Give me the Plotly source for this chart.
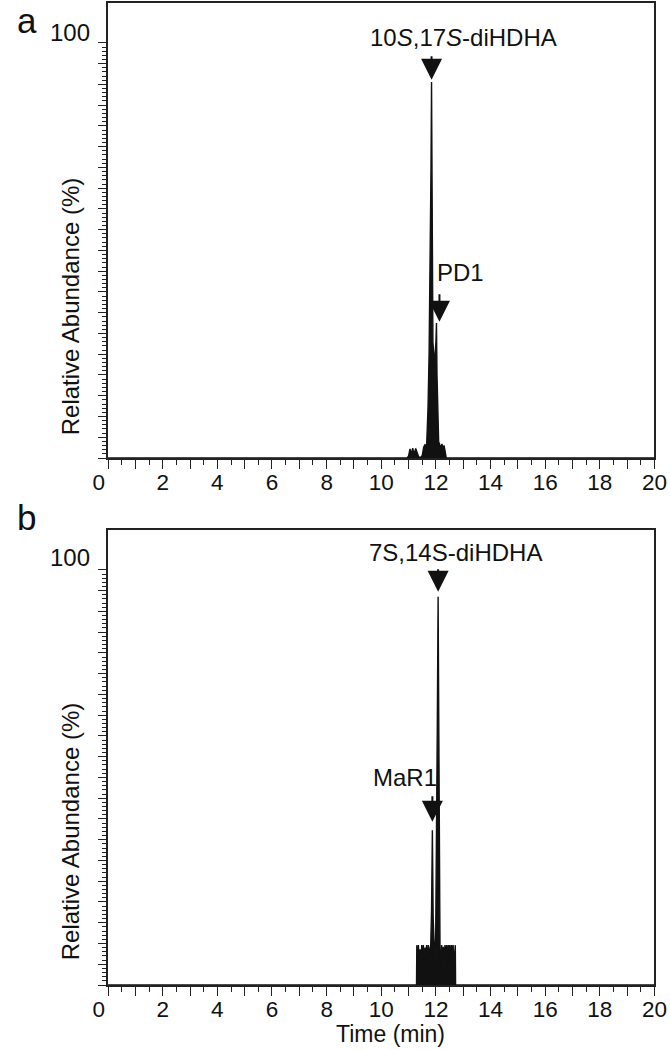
import plotly.graph_objects as go

# Chromatogram traces (time in min, relative abundance in %)
a_time = [0, 10.95, 11.0, 11.05, 11.1, 11.15, 11.2, 11.26, 11.31, 11.36, 11.42, 11.5,
          11.55, 11.6, 11.66, 11.71, 11.75, 11.79, 11.82, 11.84, 11.86, 11.89, 11.93,
          11.97, 12.0, 12.02, 12.04, 12.07, 12.1, 12.14, 12.18, 12.22, 12.26, 12.3,
          12.34, 12.38, 20]
a_abund = [0, 0, 0.5, 2.2, 1.0, 2.4, 0.9, 2.3, 1.4, 0.4, 0, 0.6,
           2.6, 3.2, 3.0, 12, 25, 45, 70, 90.6, 45, 28, 24,
           25, 28, 32.5, 20, 12, 4, 3.2, 2.6, 3.4, 2.4, 3.0,
           1.2, 0, 0]

b_time = [0, 11.29, 11.3, 11.33, 11.36, 11.39, 11.42, 11.45, 11.48, 11.51, 11.54,
          11.57, 11.6, 11.63, 11.66, 11.69, 11.72, 11.75, 11.78, 11.81, 11.84, 11.87,
          11.9, 11.93, 11.96, 11.99, 12.02, 12.05, 12.08, 12.1, 12.12, 12.15, 12.18,
          12.21, 12.24, 12.27, 12.3, 12.33, 12.36, 12.39, 12.42, 12.45, 12.48, 12.51,
          12.54, 12.57, 12.6, 12.63, 12.66, 12.69, 12.71, 12.72, 20]
b_abund = [0, 0, 9.6, 5.5, 9.6, 4.8, 8.6, 4.5, 9.6, 6.2, 9.6,
           5.2, 9.0, 6.8, 9.6, 4.8, 9.6, 6.0, 8.8, 9.6, 18, 37.3,
           16, 8.5, 6.0, 11, 30, 62, 93.5, 55, 22, 8.5, 5.0,
           9.6, 6.4, 9.2, 5.0, 9.6, 7.0, 9.6, 5.4, 9.6, 8.0, 9.6,
           6.0, 9.6, 7.4, 9.6, 5.0, 9.6, 9.6, 0, 0]

x_ticks = list(range(0, 21))
x_ticktext = [str(t) if t % 2 == 0 else "" for t in x_ticks]
x_ticktext[0] = "0\u00a0\u00a0\u00a0"   # the zero label sits left of its tick
y_major = list(range(0, 101, 5))
y_minor = list(range(0, 101))

FONT = "Liberation Sans, Arial, sans-serif"
INK = "#111111"
YMAX = 109.6
W, H = 690, 1050


def px(p):
    # target horizontal pixel in the photographed page -> paper fraction
    # (the page photo comes out offset ~13.5 px and squeezed to ~96%)
    return (p - 13.5) / 0.9625 / W


def py(p):
    return 1 - p / H


fig = go.Figure()
for t, v, ax in [(a_time, a_abund, "1"), (b_time, b_abund, "2")]:
    fig.add_trace(go.Scatter(
        x=t, y=v, mode="lines", fill="tozeroy", fillcolor=INK,
        line=dict(color=INK, width=1.4), xaxis="x" + ax, yaxis="y" + ax,
        showlegend=False, hoverinfo="skip"))

xax = dict(range=[0, 20], domain=[px(106), px(655)], showline=True, linecolor="#222",
           linewidth=1.5, mirror=True, showgrid=False, zeroline=False, ticks="outside",
           ticklen=9, tickwidth=1.3, tickcolor="#222", tickmode="array", tickvals=x_ticks,
           ticktext=x_ticktext, ticklabelstandoff=-6,
           tickfont=dict(size=22.5, color=INK, family=FONT),
           minor=dict(tickmode="array", tickvals=[t + 0.5 for t in x_ticks[:-1]],
                      ticklen=5, tickwidth=1.2, tickcolor="#222", ticks="outside"))
yax = dict(range=[0, YMAX], showline=True, linecolor="#222", linewidth=1.5, mirror=True,
           showgrid=False, zeroline=False, ticks="outside", ticklen=8, tickwidth=1.2,
           tickcolor="#222", tickmode="array", tickvals=y_major, showticklabels=False,
           minor=dict(tickmode="array", tickvals=y_minor, ticklen=4, tickwidth=1,
                      tickcolor="#222", ticks="outside"))

fig.update_layout(
    width=W, height=H, autosize=False, margin=dict(l=0, r=0, t=0, b=0),
    paper_bgcolor="white", plot_bgcolor="white",
    font=dict(family=FONT, color=INK, size=24),
    xaxis=dict(xax, anchor="y"),
    yaxis=dict(yax, anchor="x", domain=[py(458), py(3)]),
    xaxis2=dict(xax, anchor="y2"),
    yaxis2=dict(yax, anchor="x2", domain=[py(985), py(530)]),
)


def label(text, x, y, xref, yref, **kw):
    kw.setdefault("xanchor", "center")
    kw.setdefault("yanchor", "middle")
    fig.add_annotation(text=text, x=x, y=y, xref=xref, yref=yref, showarrow=False,
                       font=dict(size=kw.pop("size", 24), color=INK, family=FONT), **kw)


def arrow(x, y, xref, yref, length):
    fig.add_annotation(text="", x=x, y=y, xref=xref, yref=yref, showarrow=True,
                       ax=0, ay=-length, arrowhead=2, arrowsize=2.1, arrowwidth=2.0,
                       arrowcolor=INK)


# panel letters
label("a", 11 / W, py(20), "paper", "paper", size=35)
label("b", 11 / W, py(517), "paper", "paper", size=35)

# "100" marks
label("100", px(90), 102.4, "paper", "y", xanchor="right")
label("100", px(90), 102.9, "paper", "y2", xanchor="right")

# axis titles
label("Relative Abundance (%)", px(68), py(307), "paper", "paper", textangle=-90)
label("Relative Abundance (%)", px(68), py(832), "paper", "paper", textangle=-90)
label("Time (min)", px(390), py(1034), "paper", "paper", size=23)

# peak labels and arrows
label("10<i>S</i>,17<i>S</i>-diHDHA", 13.0, 101.4, "x", "y")
arrow(11.84, 91.1, "x", "y", 25)
label("PD1", 12.9, 44.6, "x", "y")
arrow(12.13, 32.8, "x", "y", 29)

label("7S,14S-diHDHA", 12.71, 104.1, "x2", "y2")
arrow(12.08, 94.7, "x2", "y2", 24)
label("MaR1", 10.86, 50.1, "x2", "y2")
arrow(11.87, 39.3, "x2", "y2", 27)

fig.write_html("out.html", config={"responsive": False, "displayModeBar": False},
               post_script="document.body.style.margin='0';"
                           "document.body.style.overflow='hidden';")
